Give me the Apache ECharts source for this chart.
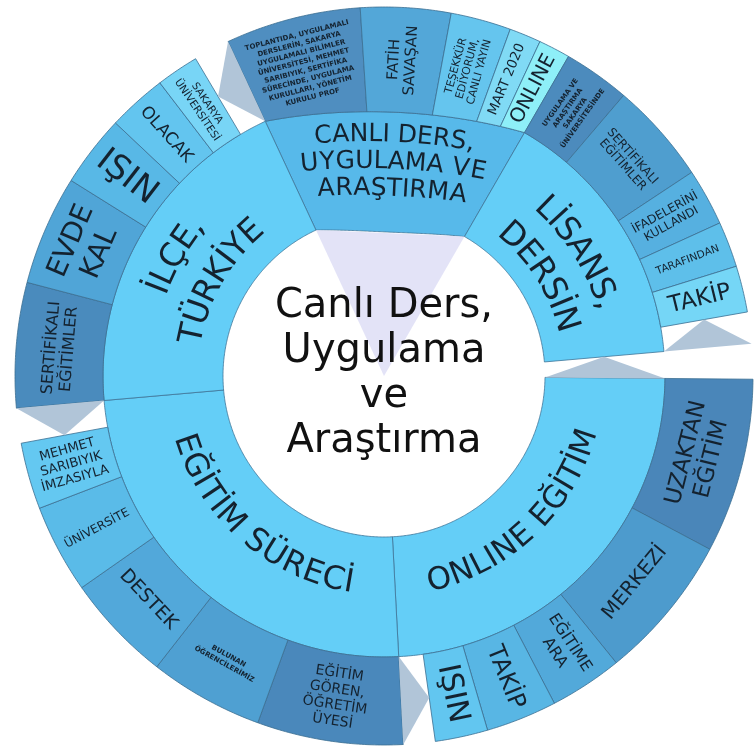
<!DOCTYPE html>
<html>
<head>
<meta charset="utf-8">
<style>
  html, body { margin: 0; padding: 0; background: #fff; }
  #chart { width: 754px; height: 748px; }
</style>
<script src="https://cdn.jsdelivr.net/npm/echarts@6/dist/echarts.min.js"></script>
</head>
<body>
<div id="chart"></div>
<script>
// ---- data ----
const centerTitle = 'Canlı Ders,\nUygulama\nve\nAraştırma';

const groupNames = [
  'CANLI DERS,\nUYGULAMA VE\nARAŞTIRMA',
  'LİSANS,\nDERSİN',
  'ONLINE EĞİTİM',
  'EĞİTİM SÜRECİ',
  'İLÇE,\nTÜRKİYE'
];
const groupValues = [55, 55, 86.5, 88, 70];
const groupGapAfter = [0, 5.5, 0, 0, 0];

const childNames = [
  ['TOPLANTIDA, UYGULAMALI\nDERSLERİN, SAKARYA\nUYGULAMALI BİLİMLER\nÜNİVERSİTESİ, MEHMET\nSARIBIYIK, SERTİFİKA\nSÜRECİNDE, UYGULAMA\nKURULLARI, YÖNETİM\nKURULU PROF',
   'FATİH\nSAVAŞAN', 'TEŞEKKÜR\nEDİYORUM,\nCANLI YAYIN', 'MART 2020', 'ONLINE'],
  ['UYGULAMA VE\nARAŞTIRMA\nSAKARYA\nÜNİVERSİTESİNDE', 'SERTİFİKALI\nEĞİTİMLER',
   'İFADELERİNİ\nKULLANDI', 'TARAFINDAN', 'TAKİP'],
  ['UZAKTAN\nEĞİTİM', 'MERKEZİ', 'EĞİTİME\nARA', 'TAKİP', 'IŞIN'],
  ['EĞİTİM\nGÖREN,\nÖĞRETİM\nÜYESİ', 'BULUNAN\nÖĞRENCİLERİMİZ', 'DESTEK', 'ÜNİVERSİTE',
   'MEHMET\nSARIBIYIK\nİMZASIYLA'],
  ['SERTİFİKALI\nEĞİTİMLER', 'EVDE\nKAL', 'IŞIN', 'OLACAK', 'SAKARYA\nÜNİVERSİTESİ']
];
const childValues = [
  [21.3, 14.2, 9.5, 5, 5],
  [10.5, 16, 9, 7.2, 7.3],
  [27.5, 23, 11.5, 11.2, 8.3],
  [23, 18, 17, 14, 10.5],
  [19.7, 17.3, 11.3, 9.3, 6.7]
];

// ---- styles / layout ----
const CX = 384, CY = 376, R0 = 161, R1 = 281, R2 = 369;
const START = -25;
const RAD = Math.PI / 180;
const FONT = '"DejaVu Sans", sans-serif';
const TEXT = '#14222f';
const groupDip = [17, 0, 0, 0, 0];
const groupColors = ['#57b9ea', '#64cef7', '#64cef7', '#64cef7', '#64cef7'];
const groupLabel = [
  { size: 25, lh: 27, dr: 10, da: 0 },
  { size: 33, lh: 44, dr: -10, da: 0 },
  { size: 31, lh: 0, dr: -9, da: 2.7 },
  { size: 32, lh: 0, dr: -11, da: 0 },
  { size: 33, lh: 46, dr: -3, da: 0 }
];
const childColors = [
  ['#4f8ec0', '#53a7d8', '#65c5ee', '#80daf5', '#8eeff8'],
  ['#4c8bbd', '#4f9ecf', '#56b0e0', '#5ebfea', '#75d6f6'],
  ['#4a86b9', '#4d9bcd', '#52a9da', '#58b6e4', '#62c6f0'],
  ['#4a88bb', '#4fa0d2', '#52a8da', '#5abbe8', '#64c8f1'],
  ['#4a8bbd', '#50a5d7', '#58b8e6', '#63c5ef', '#78d5f6']
];
const childFont = [
  [7, 15, 11, 13.5, 20],
  [7, 12, 12, 10.5, 23],
  [23, 20, 16, 24, 30],
  [14, 7, 19, 12, 13],
  [16, 28, 34, 17, 10.5]
];
const childBold = [
  [true, false, false, false, false],
  [true, false, false, false, false],
  [false, false, false, false, false],
  [false, true, false, false, false],
  [false, false, false, false, false]
];
// r = radial, t = tangential
const childMode = [
  ['t', 'r', 'r', 'r', 'r'],
  ['r', 't', 'r', 'r', 'r'],
  ['t', 't', 'r', 'r', 'r'],
  ['t', 't', 't', 'r', 'r'],
  ['t', 't', 'r', 'r', 'r']
];

// angular layout from the values
const layout = [];
let acc = START;
groupValues.forEach((v, g) => {
  const start = acc, end = acc + v;
  const kids = [];
  let c = start;
  childValues[g].forEach(cv => { kids.push([c, c + cv]); c += cv; });
  layout.push({ start, end, kids, childEnd: c });
  acc = end + groupGapAfter[g];
});

function pt(th, r) {
  return [CX + r * Math.sin(th * RAD), CY - r * Math.cos(th * RAD)];
}
function dip(g, th) {
  const L = layout[g];
  const h = (L.end - L.start) / 2, m = (L.start + L.end) / 2;
  const t = (th - m) / h;
  return groupDip[g] * Math.max(0, 1 - t * t);
}
const rIn = (g, th) => R0 - dip(g, th);
const rMid = (g, th) => R1 - dip(g, th);

function band(a0, a1, fIn, fOut) {
  const pts = [];
  const n = Math.max(2, Math.ceil((a1 - a0) / 0.5));
  for (let i = 0; i <= n; i++) { const th = a0 + (a1 - a0) * i / n; pts.push(pt(th, fOut(th))); }
  for (let i = n; i >= 0; i--) { const th = a0 + (a1 - a0) * i / n; pts.push(pt(th, fIn(th))); }
  return pts;
}

const measureCtx = document.createElement('canvas').getContext('2d');

// inner ring labels follow the arc, one glyph at a time
function curvedLabel(g) {
  const L = layout[g], spec = groupLabel[g];
  const lines = groupNames[g].split('\n');
  const mid = (L.start + L.end) / 2 + spec.da;
  const norm = ((mid % 360) + 360) % 360;
  const bottom = norm > 90 && norm < 270;
  const font = spec.size + 'px ' + FONT;
  measureCtx.font = font;
  const rc = (R0 + R1) / 2 + spec.dr;
  const n = lines.length;
  const els = [];
  lines.forEach((line, i) => {
    const off = ((n - 1) / 2 - i) * spec.lh;
    const rNom = bottom ? rc - off : rc + off;
    const rAt = th => rNom - dip(g, th);
    const chars = Array.from(line);
    const widths = chars.map(ch => measureCtx.measureText(ch).width);
    const total = widths.reduce((s, w) => s + w, 0);
    const span = total / rAt(mid) / RAD;
    let run = 0;
    chars.forEach((ch, j) => {
      const frac = (run + widths[j] / 2) / total;
      run += widths[j];
      const th = bottom ? mid + span / 2 - frac * span : mid - span / 2 + frac * span;
      const p = pt(th, rAt(th));
      const pa = pt(th - 0.2, rAt(th - 0.2)), pb = pt(th + 0.2, rAt(th + 0.2));
      const vx = bottom ? pa[0] - pb[0] : pb[0] - pa[0];
      const vy = bottom ? pa[1] - pb[1] : pb[1] - pa[1];
      els.push({
        type: 'text', x: p[0], y: p[1], rotation: Math.atan2(-vy, vx),
        style: { text: ch, font, fill: TEXT, align: 'center', verticalAlign: 'middle',
                 textAlign: 'center', textVerticalAlign: 'middle' }
      });
    });
  });
  return els;
}

function outerRotation(th, mode) {
  const n = ((th % 360) + 360) % 360;
  if (mode === 'r') return n < 180 ? (90 - th) * RAD : (270 - th) * RAD;
  return (n > 90 && n < 270) ? (180 - th) * RAD : -th * RAD;
}

// cells: inner ring pieces then outer ring pieces
const cells = [];
layout.forEach((L, g) => {
  cells.push({ ring: 0, g });
  L.kids.forEach((k, i) => cells.push({ ring: 1, g, k: i }));
});

function renderCell(params) {
  const cell = cells[params.dataIndex];
  const g = cell.g, L = layout[g];
  if (cell.ring === 0) {
    const pts = band(L.start, L.end, th => rIn(g, th), th => rMid(g, th));
    return {
      type: 'group',
      children: [
        { type: 'polygon', shape: { points: pts },
          style: { fill: groupColors[g], stroke: '#3f7598', lineWidth: 0.8 } }
      ].concat(curvedLabel(g))
    };
  }
  const [a0, a1] = L.kids[cell.k];
  const pts = band(a0, a1, th => rMid(g, th), () => R2);
  const m = (a0 + a1) / 2;
  const rm = (rMid(g, m) + R2) / 2;
  const p = pt(m, rm);
  const size = childFont[g][cell.k];
  return {
    type: 'group',
    children: [
      { type: 'polygon', shape: { points: pts },
        style: { fill: childColors[g][cell.k], stroke: '#3b6f92', lineWidth: 0.8 } },
      { type: 'text', x: p[0], y: p[1], rotation: outerRotation(m, childMode[g][cell.k]),
        style: {
          text: childNames[g][cell.k],
          font: (childBold[g][cell.k] ? 'bold ' : '') + size + 'px ' + FONT,
          lineHeight: size < 9 ? size * 1.3 : Math.round(size * 1.12),
          fill: TEXT, align: 'center', verticalAlign: 'middle',
          textAlign: 'center', textVerticalAlign: 'middle'
        } }
    ]
  };
}

// connector shades in the gaps
const shades = [];
layout.forEach((L, g) => {
  if (L.childEnd < L.end - 0.01) shades.push({ kind: 'outer', g });
  if (groupGapAfter[g] > 0) shades.push({ kind: 'inner', g });
});
shades.push({ kind: 'pointer', g: 0 });

function renderShade(params) {
  const s = shades[params.dataIndex];
  const g = s.g, L = layout[g];
  let pts, fill = '#b1c5d8';
  if (s.kind === 'outer') {
    const e = L.end, c = L.childEnd;
    pts = [pt(e, rMid(g, e)), pt(e, R2), pt(c, (rMid(g, c) + R2) / 2)];
  } else if (s.kind === 'inner') {
    const ng = (g + 1) % layout.length, ns = layout[ng].start;
    pts = [pt(ns, rIn(ng, ns)), pt(ns, rMid(ng, ns)), pt(L.end, (rIn(g, L.end) + rMid(g, L.end)) / 2)];
  } else {
    pts = [[CX, CY], pt(L.start, rIn(g, L.start)), pt(L.end, rIn(g, L.end))];
    fill = 'rgba(222,222,246,0.85)';
  }
  return { type: 'polygon', shape: { points: pts }, style: { fill } };
}

const chart = echarts.init(document.getElementById('chart'));
chart.setOption({
  animation: false,
  backgroundColor: '#ffffff',
  series: [
    { type: 'custom', coordinateSystem: 'none', silent: true,
      data: cells.map((c, i) => [i]), renderItem: renderCell, z: 2 },
    { type: 'custom', coordinateSystem: 'none', silent: true,
      data: shades.map((s, i) => [i]), renderItem: renderShade, z: 3 }
  ],
  graphic: [{
    type: 'text', x: CX, y: CY - 2, z: 100, silent: true,
    style: {
      text: centerTitle, font: '40px ' + FONT, lineHeight: 45, fill: '#111111',
      align: 'center', verticalAlign: 'middle', textAlign: 'center', textVerticalAlign: 'middle'
    }
  }]
});
</script>
</body>
</html>
